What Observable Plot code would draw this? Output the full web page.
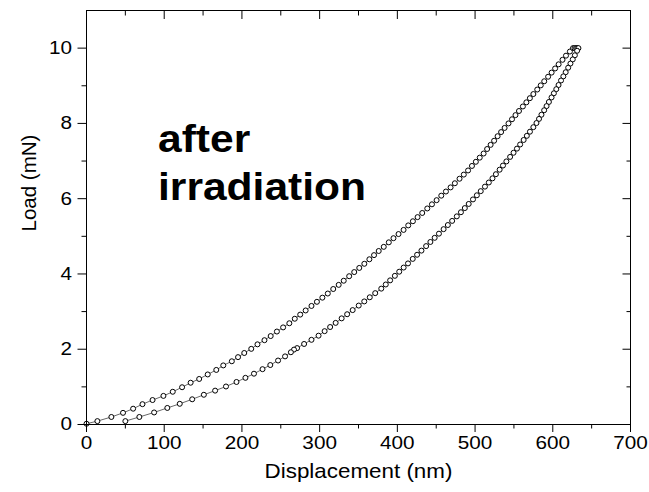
<!DOCTYPE html>
<html><head><meta charset="utf-8">
<script src="https://cdn.jsdelivr.net/npm/d3@7"></script>
<script src="https://cdn.jsdelivr.net/npm/@observablehq/plot@0.6"></script>
<style>body{margin:0;background:#fff} #chart{font-family:"Liberation Sans",Arial,sans-serif}</style>
</head><body><div id="chart"></div>
<script>
// Loading branch (upper curve): displacement (nm) and load (mN)
const loadingDisp = [0, 14, 32, 47, 60, 72, 85, 99, 111, 123, 134, 145, 156, 167, 176, 187, 195,
  203, 212, 220, 229, 237, 245, 253, 261, 268, 275,
  282, 289.5, 296.5, 303.5, 310.5, 317.5, 324.5, 331, 338, 344.5, 351, 357.5, 364, 370, 376,
  382.5, 389, 395, 401.5, 408, 414, 420, 426, 432, 438.5,
  444.5, 450.5, 456.5, 462.5, 468.5, 474, 480,
  485.5, 491, 496, 501, 506, 511,
  515.5, 520, 524.5, 529, 533.5,
  538, 543, 547.5, 552, 556.5, 561.5, 566, 570.5, 575,
  580, 584.5, 589, 594, 598.5, 603, 607.5, 612.5, 617, 622,
  626, 628, 630];
const loadingLoad = [0.02, 0.09, 0.20, 0.31, 0.42, 0.54, 0.65, 0.76, 0.87, 0.99, 1.11, 1.21, 1.33, 1.45, 1.57, 1.68, 1.79,
  1.90, 2.01, 2.13, 2.24, 2.35, 2.47, 2.58, 2.69, 2.81, 2.92,
  3.03, 3.15, 3.26, 3.37, 3.48, 3.60, 3.71, 3.82, 3.94, 4.05, 4.16, 4.27, 4.39, 4.50, 4.61,
  4.72, 4.84, 4.95, 5.06, 5.17, 5.29, 5.40, 5.51, 5.62, 5.74,
  5.85, 5.96, 6.08, 6.19, 6.30, 6.41, 6.53,
  6.64, 6.75, 6.87, 6.98, 7.09, 7.20,
  7.32, 7.43, 7.54, 7.66, 7.77,
  7.88, 8.00, 8.11, 8.22, 8.33, 8.45, 8.56, 8.67, 8.78,
  8.90, 9.01, 9.12, 9.24, 9.35, 9.46, 9.57, 9.69, 9.80, 9.91,
  10.0, 10.0, 10.0];

// Unloading branch (lower curve)
const unloadingDisp = [631.5, 633, 631.3, 628.4, 625.7, 622.7, 619.8, 616.6, 613.6, 610.6, 607.4,
  604.5, 601.4, 598.4, 595, 592, 588.9, 585.4, 582.3, 579, 575,
  570.6, 566.6, 562.5, 558, 553.9, 549.5, 545.1, 540.3, 535.9, 531.6,
  526.8, 522.4, 517.7, 512.7, 507.3, 502.3, 497.3, 491.8, 486.8, 481.8,
  476.5, 470.5, 465, 459.5, 453.5, 448, 442.5, 437, 431, 425.4,
  419.8, 413.7, 408.1, 402.4, 396.8, 390.7, 385.1, 379.3, 371.5, 364.5,
  357.4, 350.3, 342.5, 335.4, 328.3, 320.6, 313.5, 306.4, 298.6, 289.5,
  280, 271, 267, 263, 255.5, 246.5, 236.5, 226.5, 215.5, 204.5,
  193, 179.5, 165.5, 151, 136, 120, 104, 87, 68, 50];
const unloadingLoad = [10.0, 10.0, 9.93, 9.81, 9.70, 9.59, 9.48, 9.36, 9.25, 9.14, 9.02,
  8.91, 8.80, 8.69, 8.57, 8.46, 8.35, 8.23, 8.12, 8.01, 7.90,
  7.78, 7.67, 7.56, 7.44, 7.33, 7.22, 7.11, 6.99, 6.88, 6.77,
  6.65, 6.54, 6.43, 6.32, 6.20, 6.09, 5.98, 5.86, 5.75, 5.64,
  5.53, 5.41, 5.30, 5.19, 5.07, 4.96, 4.85, 4.74, 4.62, 4.51,
  4.40, 4.28, 4.17, 4.06, 3.95, 3.83, 3.72, 3.61, 3.49, 3.38,
  3.27, 3.16, 3.04, 2.93, 2.82, 2.70, 2.59, 2.48, 2.36, 2.25,
  2.14, 2.03, 1.99, 1.92, 1.81, 1.70, 1.58, 1.47, 1.35, 1.24,
  1.13, 1.01, 0.90, 0.79, 0.67, 0.55, 0.44, 0.32, 0.20, 0.09];

const xTicks = [0, 100, 200, 300, 400, 500, 600, 700];
const xMinorTicks = [50, 150, 250, 350, 450, 550, 650];
const yTicks = [0, 2, 4, 6, 8, 10];
const yMinorTicks = [1, 3, 5, 7, 9];
const xLabel = "Displacement (nm)";
const yLabel = "Load (mN)";
const annotation = "after\nirradiation";

const loading = loadingDisp.map((d, i) => ({x: d, y: loadingLoad[i]}));
const unloading = unloadingDisp.map((d, i) => ({x: d, y: unloadingLoad[i]}));

const chart = Plot.plot({
  width: 649, height: 492,
  marginLeft: 86, marginRight: 19, marginTop: 10, marginBottom: 68,
  x: {domain: [0, 700]},
  y: {domain: [0, 11]},
  style: {fontFamily: "Liberation Sans, Arial, sans-serif", fontSize: "18px", background: "white", color: "black"},
  marks: [
    Plot.line(loading, {x: "x", y: "y", stroke: "black", strokeWidth: 0.6}),
    Plot.line(unloading, {x: "x", y: "y", stroke: "black", strokeWidth: 0.6}),
    Plot.dot(loading, {x: "x", y: "y", r: 2.5, stroke: "black", fill: "white", strokeWidth: 1}),
    Plot.dot(unloading, {x: "x", y: "y", r: 2.5, stroke: "black", fill: "white", strokeWidth: 1}),
    Plot.frame({stroke: "black", strokeWidth: 1}),
    Plot.axisX(xTicks, {anchor: "bottom", tickSize: 8, tickPadding: 3.5, label: null, fontSize: 18.5}),
    Plot.axisX(xMinorTicks, {anchor: "bottom", tickSize: 4.5, fill: "none", label: null}),
    Plot.axisX(xTicks, {anchor: "top", tickSize: 8, dy: 8, fill: "none", label: null}),
    Plot.axisX(xMinorTicks, {anchor: "top", tickSize: 4.5, dy: 4.5, fill: "none", label: null}),
    Plot.axisY(yTicks, {anchor: "left", tickSize: 8.5, tickPadding: 6, label: null, fontSize: 18.5}),
    Plot.axisY(yMinorTicks, {anchor: "left", tickSize: 4.5, fill: "none", label: null}),
    Plot.axisY(yTicks, {anchor: "right", tickSize: 8.5, dx: -8.5, fill: "none", label: null}),
    Plot.axisY(yMinorTicks, {anchor: "right", tickSize: 4.5, dx: -4.5, fill: "none", label: null}),
    Plot.text([xLabel], {frameAnchor: "bottom", dy: 53, text: d => d, fontSize: 20}),
    Plot.text([yLabel], {frameAnchor: "left", dx: -57, dy: 14, rotate: -90, text: d => d, fontSize: 20.5}),
    Plot.text([annotation], {frameAnchor: "top-left", dx: 71.5, dy: 107, text: d => d, fontSize: 38,
      fontWeight: "bold", textAnchor: "start", lineAnchor: "top", lineHeight: 1.27})
  ]
});
// The reference's horizontal lettering is slightly wider than Liberation Sans: stretch it horizontally.
chart.querySelectorAll("text").forEach(t => {
  const tr = t.getAttribute("transform") || "";
  if (!tr.includes("rotate")) t.setAttribute("transform", (tr + " scale(1.12,1)").trim());
});
document.getElementById("chart").appendChild(chart);
</script>
</body></html>
